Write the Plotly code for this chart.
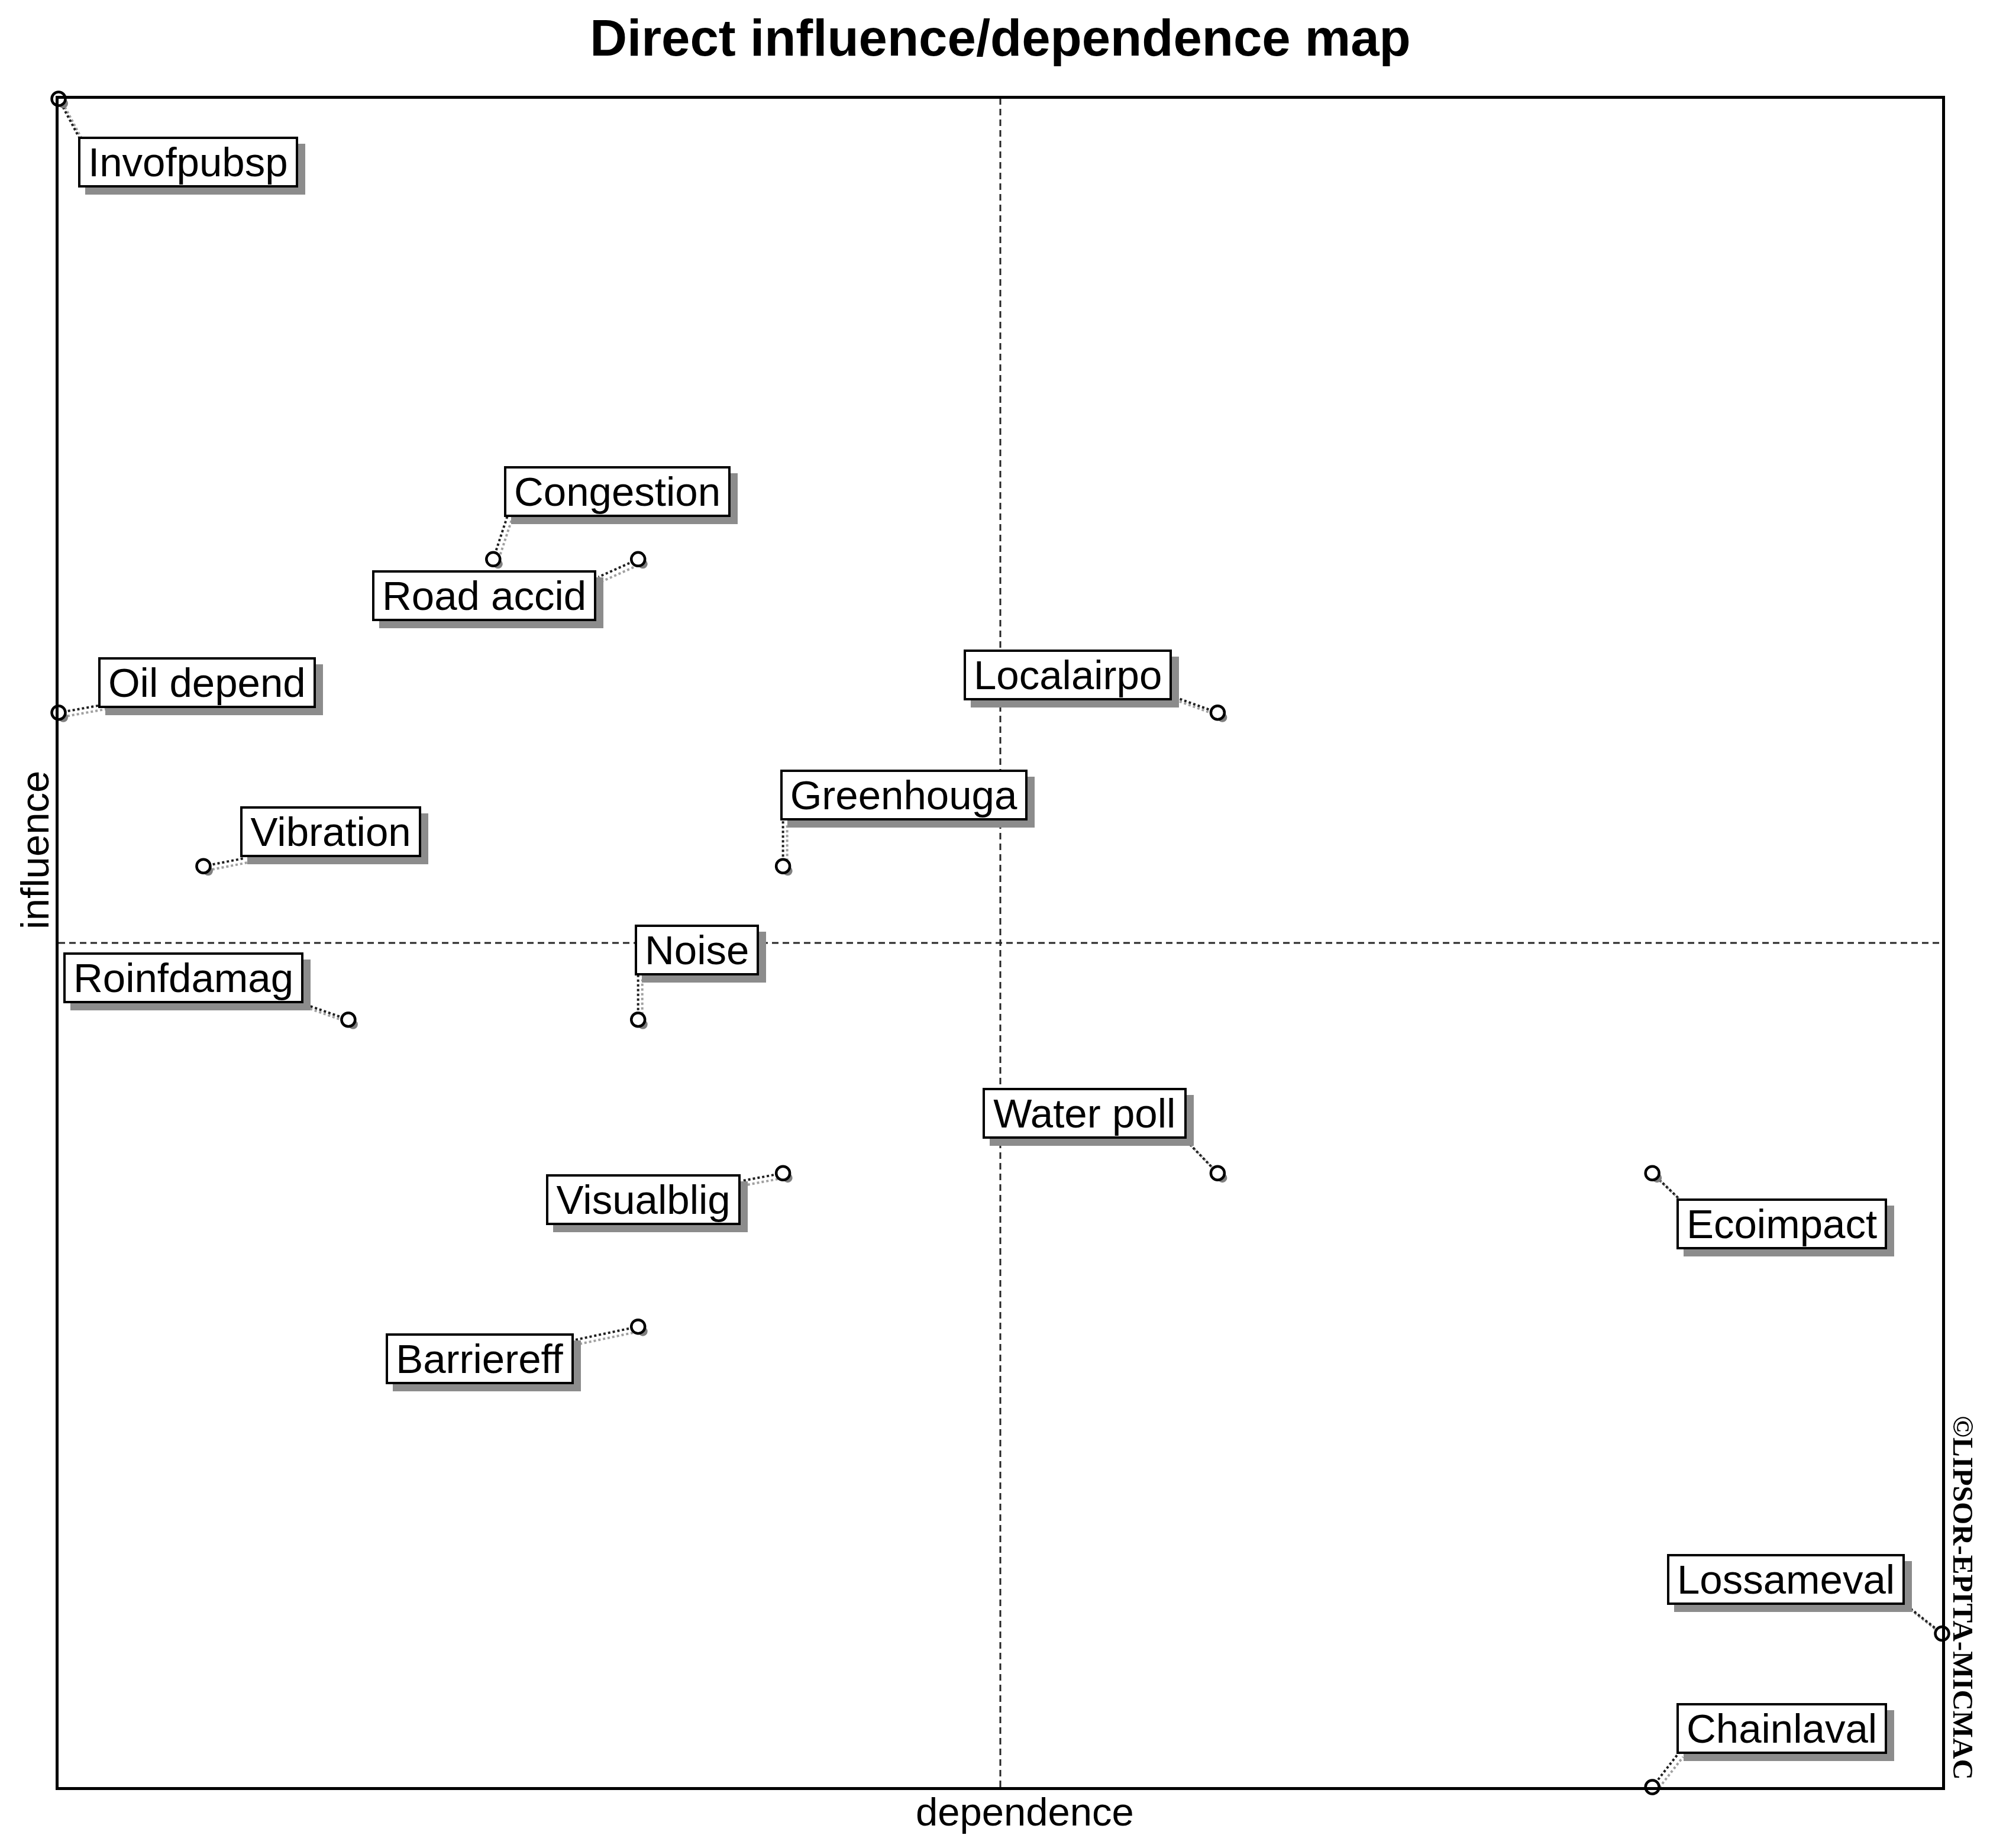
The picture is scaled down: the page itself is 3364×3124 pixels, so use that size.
import plotly.graph_objects as go

# ---- data ----
names = ["Invofpubsp", "Congestion", "Road accid", "Oil depend", "Localairpo",
         "Vibration", "Greenhouga", "Noise", "Roinfdamag", "Water poll",
         "Visualblig", "Ecoimpact", "Barriereff", "Lossameval", "Chainlaval"]
dependence = [0, 3, 4, 0, 8, 1, 5, 4, 2, 8, 5, 11, 4, 13, 11]
influence = [11, 8, 8, 7, 7, 6, 6, 5, 5, 4, 4, 4, 3, 1, 0]

# ---- label layout (pixel offsets from the point, screen coords: +x right, +y down) ----
label_dx = [219, 210, -260, 251, -253, 215, 204, 99, -279, -225, -236, 219, -268, -264, 219]
label_dy = [107, -114, 62, -51, -64, -58, -120, -118, -71, -101, 45, 86, 54, -92, -99]
conn_dx = [34, 24, -67, 73, -77, 67, 0, 0, -79, -56, -69, 45, -114, -62, 45]
conn_dy = [64, -73, 30, -13, -28, -13, -77, -75, -28, -58, 13, 43, 24, -49, -58]

# page has an 8px body margin; keep the figure inside the window
W, H = 3348, 3108
ML, MR, MT, MB = 91, 73, 159, 95
LABEL_FONT = "Liberation Sans, Arial, sans-serif"
LABEL_SIZE = 69
BOX_H = 78

# Arial / Liberation Sans advance widths (per 1000 em) for sizing the label boxes
ARIAL_W = {' ': 278, 'I': 278, 'C': 722, 'R': 722, 'O': 778, 'L': 556, 'V': 667, 'G': 778,
           'N': 722, 'W': 944, 'B': 667, 'E': 667,
           'a': 556, 'b': 556, 'c': 500, 'd': 556, 'e': 556, 'f': 278, 'g': 556, 'h': 556,
           'i': 222, 'k': 500, 'l': 222, 'm': 833, 'n': 556, 'o': 556, 'p': 556, 'r': 333,
           's': 500, 't': 278, 'u': 556, 'v': 500, 'w': 722, 'y': 500}


def box_width(txt):
    return sum(ARIAL_W.get(ch, 556) for ch in txt) * LABEL_SIZE / 1000.0 + 26


fig = go.Figure()

shapes = []
xmid = (min(dependence) + max(dependence)) / 2
ymid = (min(influence) + max(influence)) / 2
shapes.append(dict(type="line", xref="x", yref="paper", x0=xmid, x1=xmid, y0=0, y1=1,
                   line=dict(color="#262626", width=3, dash="11px,7px"), layer="below"))
shapes.append(dict(type="line", xref="paper", yref="y", x0=0, x1=1, y0=ymid, y1=ymid,
                   line=dict(color="#262626", width=3, dash="11px,7px"), layer="below"))

annotations = []
for i, n in enumerate(names):
    x, y = dependence[i], influence[i]
    bw = box_width(n)
    shapes.append(dict(type="line", xref="x", yref="y", xsizemode="pixel", ysizemode="pixel",
                       xanchor=x, yanchor=y, x0=7, y0=-7, x1=conn_dx[i] + 7, y1=-conn_dy[i] - 7,
                       line=dict(color="#a0a0a0", width=4, dash="dot"), layer="below"))
    shapes.append(dict(type="line", xref="x", yref="y", xsizemode="pixel", ysizemode="pixel",
                       xanchor=x, yanchor=y, x0=0, y0=0, x1=conn_dx[i], y1=-conn_dy[i],
                       line=dict(color="#202020", width=4, dash="dot"), layer="below"))
    shapes.append(dict(type="circle", xref="x", yref="y", xsizemode="pixel", ysizemode="pixel",
                       xanchor=x, yanchor=y, x0=0, x1=16, y0=0, y1=-16,
                       fillcolor="#808080", line=dict(width=0), layer="below"))
    # label shadow (blank box, same size)
    annotations.append(dict(x=x, y=y, xref="x", yref="y", showarrow=False,
                            xshift=label_dx[i] + 12, yshift=-(label_dy[i] + 12),
                            text="\u00a0", width=bw, height=BOX_H,
                            font=dict(family=LABEL_FONT, size=LABEL_SIZE, color="#8c8c8c"),
                            bgcolor="#8c8c8c", bordercolor="#8c8c8c", borderwidth=4, borderpad=0))
    # label box
    annotations.append(dict(x=x, y=y, xref="x", yref="y", showarrow=False,
                            xshift=label_dx[i], yshift=-label_dy[i],
                            text=n, width=bw, height=BOX_H, align="center", valign="middle",
                            font=dict(family=LABEL_FONT, size=LABEL_SIZE, color="black"),
                            bgcolor="white", bordercolor="black", borderwidth=4, borderpad=0))

fig.add_trace(go.Scatter(
    x=dependence, y=influence, mode="markers", cliponaxis=False,
    marker=dict(symbol="circle", size=23, color="white", line=dict(color="black", width=4.5)),
    hoverinfo="text", text=names, showlegend=False))

annotations.append(dict(text="dependence", xref="paper", yref="paper", x=0.513, y=0,
                        yshift=-41, showarrow=False, xanchor="center", yanchor="middle",
                        font=dict(family=LABEL_FONT, size=67, color="black")))
annotations.append(dict(text="influence", xref="paper", yref="paper", x=0, y=0.555,
                        xshift=-41, showarrow=False, xanchor="center", yanchor="middle",
                        textangle=-90,
                        font=dict(family=LABEL_FONT, size=67, color="black")))
annotations.append(dict(text="\u00a9LIPSOR-EPITA-MICMAC", xref="paper", yref="paper", x=1, y=0.112,
                        xshift=36, showarrow=False, xanchor="center", yanchor="middle",
                        textangle=90,
                        font=dict(family="Liberation Serif, Times New Roman, serif", size=49,
                                  color="black", weight="bold")))

fig.update_layout(
    width=W, height=H,
    margin=dict(l=ML, r=MR, t=MT, b=MB),
    paper_bgcolor="white", plot_bgcolor="white",
    title=dict(text="<b>Direct influence/dependence map</b>", x=0.5, xref="paper",
               y=1 - 56 / H, yref="container", xanchor="center", yanchor="middle",
               font=dict(family="Liberation Sans, Arial, sans-serif", size=87, color="black")),
    xaxis=dict(range=[min(dependence), max(dependence)], showgrid=False, zeroline=False,
               showticklabels=False, ticks="", showline=True, linecolor="black", linewidth=5,
               mirror=True),
    yaxis=dict(range=[min(influence), max(influence)], showgrid=False, zeroline=False,
               showticklabels=False, ticks="", showline=True, linecolor="black", linewidth=5,
               mirror=True),
    shapes=shapes,
    annotations=annotations,
)

fig.write_html("out.html")
